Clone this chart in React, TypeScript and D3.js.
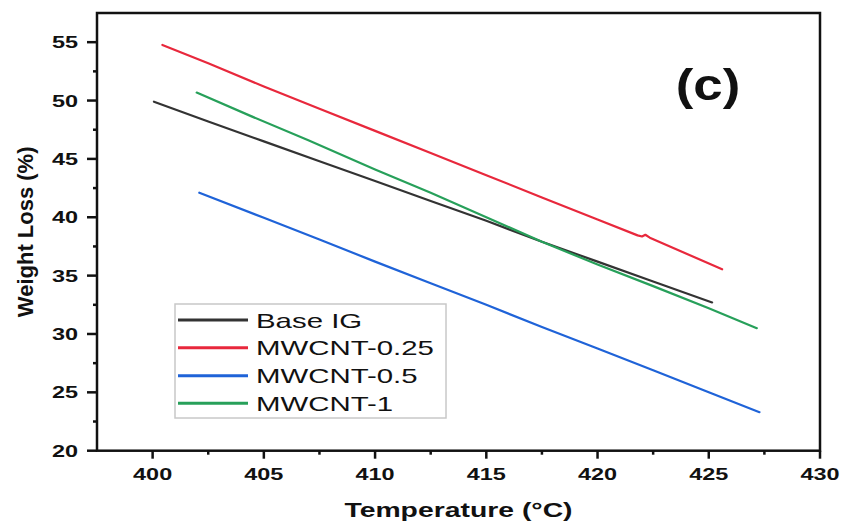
import React from "react";
import * as d3 from "d3";

// Weight loss vs temperature
const baseTemp = [400.06, 402.5, 405, 407.5, 410, 412.5, 415, 417.5, 420, 422.5, 425.15];
const baseLoss = [49.9, 48.2, 46.5, 44.8, 43.1, 41.4, 39.7, 37.9, 36.2, 34.5, 32.7];

const mw025Temp = [400.44, 402.5, 405, 407.5, 410, 412.5, 415, 417.5, 420, 421.8, 422.0, 422.15, 422.35, 425.6];
const mw025Loss = [54.76, 53.2, 51.2, 49.3, 47.4, 45.5, 43.6, 41.7, 39.8, 38.45, 38.35, 38.5, 38.25, 35.54];

const mw05Temp = [402.1, 405, 407.5, 410, 412.5, 415, 417.5, 420, 422.5, 425, 427.28];
const mw05Loss = [42.1, 39.95, 38.1, 36.2, 34.35, 32.5, 30.6, 28.75, 26.9, 25.0, 23.3];

const mw1Temp = [401.98, 404.5, 407, 410, 412.5, 415, 417.5, 420, 422.5, 425, 427.16];
const mw1Loss = [50.68, 48.6, 46.6, 44.1, 42.1, 40.0, 37.9, 35.95, 34.1, 32.2, 30.5];

const seriesNames = ["Base IG", "MWCNT-0.25", "MWCNT-0.5", "MWCNT-1"];
const seriesColors = ["#333333", "#e8283c", "#1f63d8", "#27a05a"];
const seriesTemps = [baseTemp, mw025Temp, mw05Temp, mw1Temp];
const seriesLoss = [baseLoss, mw025Loss, mw05Loss, mw1Loss];

const xTicks = [400, 405, 410, 415, 420, 425, 430];
const yTicks = [20, 25, 30, 35, 40, 45, 50, 55];

const W = 844;
const H = 526;
const left = 97, right = 820, top = 13, bottom = 450.7;
const SX = 1.42; // the figure is stretched sideways

function SText({ x, y, sx = SX, anchor = "start", size, weight = "bold", children }: any) {
  return (
    <text
      transform={`translate(${x},${y}) scale(${sx},1)`}
      textAnchor={anchor}
      fontSize={size}
      fontWeight={weight}
      fontFamily="'Liberation Sans', Arial, sans-serif"
      fill="#111"
    >
      {children}
    </text>
  );
}

export default function App() {
  const x = d3.scaleLinear().domain([397.5, 430]).range([left, right]);
  const y = d3.scaleLinear().domain([20, 57.5]).range([bottom, top]);

  const line = d3
    .line<[number, number]>()
    .x((d) => x(d[0]))
    .y((d) => y(d[1]));

  const xMinor = d3.range(402.5, 430, 5);
  const yMinor = d3.range(22.5, 55, 5);

  // legend placement
  const lgX = 175, lgY = 304, lgW = 271, lgH = 114;
  const rowY = [320, 347.7, 375.7, 403.3];

  return (
    <div style={{ position: "absolute", left: 0, top: 0 }}>
      <svg width={W} height={H} style={{ display: "block", background: "#fff" }}>
        {/* series */}
        <g fill="none" strokeWidth={2.2} strokeLinejoin="round" strokeLinecap="round">
          {seriesNames.map((name, i) => (
            <path
              key={name}
              d={line(seriesTemps[i].map((t, j) => [t, seriesLoss[i][j]] as [number, number])) || ""}
              stroke={seriesColors[i]}
            />
          ))}
        </g>

        {/* frame */}
        <rect x={left} y={top} width={right - left} height={bottom - top} fill="none" stroke="#111" strokeWidth={2.5} />

        {/* ticks */}
        <g stroke="#111" strokeWidth={2.5}>
          {xTicks.map((t) => (
            <line key={"xt" + t} x1={x(t)} x2={x(t)} y1={bottom} y2={bottom + 8} />
          ))}
          {xMinor.map((t) => (
            <line key={"xm" + t} x1={x(t)} x2={x(t)} y1={bottom} y2={bottom + 4} />
          ))}
          {yTicks.map((t) => (
            <line key={"yt" + t} x1={left - 10} x2={left} y1={y(t)} y2={y(t)} />
          ))}
          {yMinor.map((t) => (
            <line key={"ym" + t} x1={left - 4} x2={left} y1={y(t)} y2={y(t)} />
          ))}
        </g>

        {xTicks.map((t) => (
          <SText key={"xl" + t} x={x(t)} y={480} anchor="middle" size={16.5}>
            {t}
          </SText>
        ))}
        {yTicks.map((t) => (
          <SText key={"yl" + t} x={78} y={y(t) + 6} anchor="end" size={16.5}>
            {t}
          </SText>
        ))}

        <SText x={(left + right) / 2} y={517} anchor="middle" size={21} sx={1.35}>
          Temperature (°C)
        </SText>
        <text
          transform={`translate(33,${(top + bottom) / 2}) rotate(-90)`}
          textAnchor="middle"
          fontSize={22}
          fontWeight="bold"
          fontFamily="'Liberation Sans', Arial, sans-serif"
          fill="#111"
        >
          Weight Loss (%)
        </text>

        <SText x={708} y={100} anchor="middle" size={44} sx={1.2}>
          (c)
        </SText>

        {/* legend */}
        <rect x={lgX} y={lgY} width={lgW} height={lgH} fill="#fff" stroke="#c8c8c8" strokeWidth={1.5} />
        {seriesNames.map((name, i) => (
          <g key={"lg" + name}>
            <line x1={178} x2={248} y1={rowY[i]} y2={rowY[i]} stroke={seriesColors[i]} strokeWidth={3} />
            <SText x={256} y={rowY[i] + 7.5} size={21} weight="normal" sx={1.4}>
              {name}
            </SText>
          </g>
        ))}
      </svg>
    </div>
  );
}
